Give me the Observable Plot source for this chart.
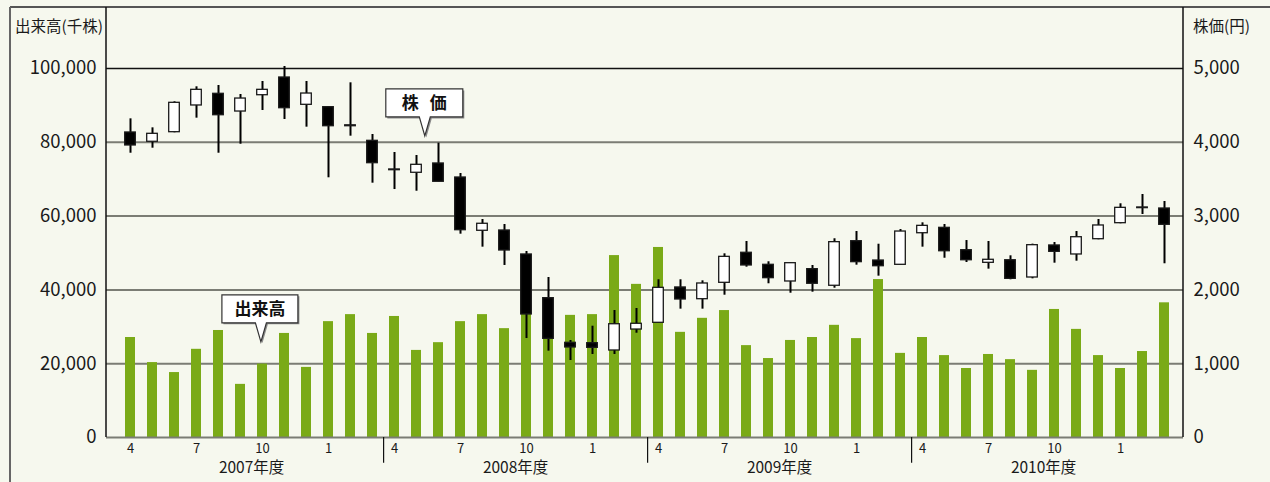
<!DOCTYPE html>
<html><head><meta charset="utf-8">
<script src="https://cdn.jsdelivr.net/npm/d3@7"></script>
<script src="https://cdn.jsdelivr.net/npm/@observablehq/plot@0.6"></script>
<style>
html,body{margin:0;padding:0;background:#f6f8ee;}
#chart{width:1270px;height:482px;overflow:hidden;}
</style></head><body><div id="chart"></div>
<script>
// fiscal months Apr 2007 – Mar 2011
const months = [4,5,6,7,8,9,10,11,12,1,2,3, 4,5,6,7,8,9,10,11,12,1,2,3, 4,5,6,7,8,9,10,11,12,1,2,3, 4,5,6,7,8,9,10,11,12,1,2,3];
const fiscalYears = ["2007年度","2008年度","2009年度","2010年度"];
const tickMonths = [4,7,10,1];
// 出来高 (千株)
const volume = [27100,20300,17600,23900,29000,14400,19900,28200,19000,31400,33300,28200,
                32800,23600,25700,31400,33300,29500,36000,34000,33100,33300,49300,41500,
                51500,28500,32300,34400,24900,21400,26300,27100,30400,26800,42800,22800,
                27100,22200,18700,22500,21100,18200,34700,29300,22200,18700,23300,36500];
// 株価 (円)
const open  = [4133,4007,4137,4499,4657,4417,4638,4878,4508,4476,4230,4020,
               3632,3587,3713,3523,2801,2805,2480,1888,1283,1278,1179,1463,
               1554,2033,1874,2096,2503,2340,2114,2281,2056,2660,2398,2340,
               2768,2841,2538,2367,2402,2168,2602,2480,2687,2904,3117,3103];
const high  = [4318,4196,4549,4752,4770,4648,4824,5027,4824,4485,4806,4106,
               3862,3821,3988,3577,2954,2886,2520,2168,1314,1508,1721,1748,
               2137,2137,2123,2489,2656,2381,2371,2331,2693,2791,2619,2818,
               2909,2886,2669,2656,2462,2620,2642,2791,2954,3167,3293,3198];
const low   = [3852,3920,4129,4327,3852,3974,4431,4309,4205,3519,4083,3446,
               3360,3337,3465,2755,2579,2331,1341,1170,1043,1125,1125,1413,
               1554,1739,1739,1928,2308,2083,1955,1969,2023,2335,2186,2340,
               2579,2429,2371,2281,2137,2150,2362,2389,2679,2896,3022,2354];
const close = [3957,4115,4535,4711,4367,4593,4711,4462,4661,4218,4218,3717,
               3622,3695,3465,2809,2896,2534,1667,1337,1220,1215,1535,1541,
               2028,1870,2087,2448,2331,2159,2362,2083,2647,2376,2321,2791,
               2868,2524,2402,2408,2150,2606,2516,2714,2873,3112,3108,2882];
const leftTicks = [0,20000,40000,60000,80000,100000];
const K = 20; // 1円 on the right axis = 20千株 on the left axis

const data = months.map((m,i)=>({i, m, vol:volume[i], open:open[i], high:high[i], low:low[i], close:close[i]}));
const FONT = "'Noto Sans CJK JP','Noto Sans',sans-serif";
const GREEN = "#7aaa17";
const GRID = "#7b7d74";

const chart = Plot.plot({
  width:1270, height:482,
  marginTop:68, marginBottom:45, marginLeft:106, marginRight:87,
  style:{background:"transparent", fontFamily:FONT, fontSize:"18.5px", color:"#1a1a1a", overflow:"visible"},
  x:{type:"band", domain:d3.range(48), range:[113.9,1179.1], paddingInner:0.55, paddingOuter:0.275, axis:null},
  y:{domain:[0,100000], axis:null},
  color:{type:"identity"},
  marks:[
    Plot.ruleY(leftTicks.filter(t=>t>0 && t<100000), {stroke:GRID, strokeWidth:2}),
    Plot.ruleY([100000], {stroke:"#111", strokeWidth:1.3}),
    Plot.barY(data, {x:"i", y:"vol", fill:GREEN}),
    Plot.ruleY([0], {stroke:GRID, strokeWidth:2}),
    Plot.axisY({anchor:"left", ticks:leftTicks, tickSize:0, tickPadding:10, tickFormat:d3.format(","), fontSize:18.5, label:null}),
    Plot.axisY({anchor:"right", ticks:leftTicks, tickSize:0, tickPadding:10, tickFormat:d=>d3.format(",")(d/K), fontSize:18.5, label:null}),
    Plot.ruleX(data, {x:"i", y1:d=>d.low*K, y2:d=>d.high*K, stroke:"#000", strokeWidth:2}),
    Plot.barY(data, {x:"i", y1:d=>d.open*K, y2:d=>d.close*K, fill:d=>d.close<d.open?"#000":"#fff", stroke:"#1a1a1a", strokeWidth:1.3, insetLeft:-0.3, insetRight:-0.3}),
    Plot.text(data.filter(d=>tickMonths.includes(d.m)), {x:"i", y:0, dy:11.5, text:"m", fontSize:13, lineAnchor:"middle", fill:"#1a1a1a"}),
    Plot.text(fiscalYears, {x:(d,k)=>k*12+5, y:0, dx:11.1, dy:30.5, text:d=>d, fontSize:15.5, lineAnchor:"middle", fill:"#1a1a1a"}),
    Plot.ruleX([11,23,35], {x:d=>d, dx:11.1, y1:0, y2:-7000, stroke:"#111", strokeWidth:1.2})
  ]
});
document.getElementById("chart").appendChild(chart);

const svg = d3.select(chart);
const xs = chart.scale("x"), ys = chart.scale("y");
const center = i => xs.apply(0) + xs.bandwidth/2 + i*xs.step;
const yTop = 7, left = 106, right = 1270 - 87, base = ys.apply(0);

// frame lines
svg.append("line").attr("x1",10).attr("x2",1270).attr("y1",yTop).attr("y2",yTop).attr("stroke","#555").attr("stroke-width",2);
svg.append("line").attr("x1",10).attr("x2",10).attr("y1",yTop).attr("y2",482).attr("stroke","#666").attr("stroke-width",2);
svg.append("line").attr("x1",left).attr("x2",left).attr("y1",yTop).attr("y2",base).attr("stroke","#111").attr("stroke-width",1.5);
svg.append("line").attr("x1",right).attr("x2",right).attr("y1",yTop).attr("y2",base).attr("stroke","#111").attr("stroke-width",1.5);

// axis titles
svg.append("text").attr("x",15).attr("y",32).attr("text-anchor","start").attr("font-size",15.5).attr("font-family",FONT).attr("fill","#1a1a1a").text("出来高(千株)");
svg.append("text").attr("x",1193).attr("y",32).attr("text-anchor","start").attr("font-size",15.5).attr("font-family",FONT).attr("fill","#1a1a1a").text("株価(円)");

// callouts
function callout(tx, ty, offX, offY, w, h, label, wordSpacing) {
  const l = tx + offX, t = ty + offY, r = l + w, b = t + h;
  const d = `M${l},${t}H${r}V${b}H${tx+5.5}L${tx},${ty}L${tx-5.5},${b}H${l}Z`;
  const g = svg.append("g");
  g.append("path").attr("d",d).attr("transform","translate(1.5,1.5)").attr("fill","#8a8a8a");
  g.append("path").attr("d",d).attr("fill","#fff").attr("stroke","#333").attr("stroke-width",1.2);
  g.append("text").attr("x",l+w/2).attr("y",t+h/2).attr("dy","0.36em").attr("text-anchor","middle")
    .attr("font-size",17).attr("font-weight","bold").attr("font-family",FONT).attr("fill","#111")
    .attr("word-spacing",wordSpacing||0).text(label);
}
callout(center(13.4), ys.apply(4080*K), -39, -47, 77, 28, "株 価", 7);
callout(center(5.95), ys.apply(25800), -39, -47, 76, 28, "出来高");
</script></body></html>
